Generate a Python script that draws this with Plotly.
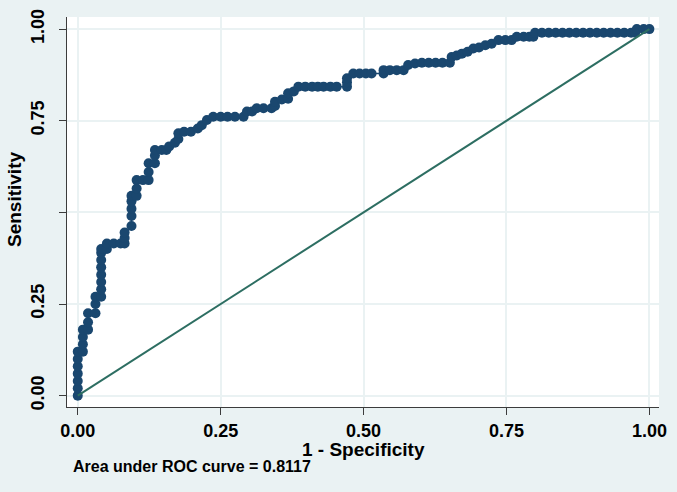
import plotly.graph_objects as go

# ROC curve points (1 - specificity, sensitivity)
fpr = [
    0, 0, 0, 0, 0, 0, 0,
    0.009, 0.009, 0.009, 0.009,
    0.018, 0.018, 0.018,
    0.031, 0.031, 0.031,
    0.041, 0.041, 0.041, 0.041, 0.041, 0.041, 0.041, 0.041,
    0.051, 0.051,
    0.063, 0.075, 0.082, 0.082, 0.082,
    0.094, 0.094, 0.094, 0.094, 0.094,
    0.103, 0.103, 0.103,
    0.114, 0.124, 0.124, 0.124,
    0.135, 0.135, 0.135,
    0.147, 0.155,
    0.16, 0.17, 0.176, 0.176, 0.186, 0.198, 0.21, 0.217, 0.226, 0.237,
    0.25, 0.262, 0.275, 0.29,
    0.296, 0.305, 0.313, 0.325, 0.339,
    0.345, 0.345, 0.357, 0.368, 0.368, 0.378, 0.386,
    0.398, 0.41, 0.42, 0.43, 0.442, 0.453,
    0.471, 0.471, 0.471, 0.482, 0.493, 0.504, 0.514,
    0.535, 0.535, 0.546, 0.558, 0.570,
    0.578, 0.59, 0.602, 0.614, 0.626, 0.638, 0.651,
    0.654, 0.663, 0.672, 0.682, 0.692, 0.702, 0.713, 0.724, 0.736, 0.748, 0.759,
    0.768, 0.78, 0.79, 0.797,
    0.8, 0.812, 0.824, 0.836, 0.848, 0.86, 0.872, 0.884, 0.896, 0.908,
    0.92, 0.932, 0.944, 0.956, 0.968, 0.975,
    0.978, 0.99, 1.0,
]
tpr = [
    0, 0.02, 0.04, 0.06, 0.08, 0.10, 0.12,
    0.12, 0.14, 0.16, 0.18,
    0.18, 0.20, 0.225,
    0.225, 0.25, 0.27,
    0.27, 0.29, 0.31, 0.33, 0.35, 0.37, 0.39, 0.40,
    0.40, 0.415,
    0.415, 0.415, 0.415, 0.43, 0.445,
    0.463, 0.49, 0.51, 0.53, 0.545,
    0.545, 0.565, 0.588,
    0.588, 0.588, 0.61, 0.634,
    0.634, 0.655, 0.67,
    0.67, 0.67,
    0.68, 0.69, 0.70, 0.716, 0.72, 0.72, 0.729, 0.738, 0.752, 0.761,
    0.761, 0.761, 0.761, 0.761,
    0.775, 0.775, 0.784, 0.784, 0.784,
    0.79, 0.802, 0.808, 0.81, 0.825, 0.83, 0.843,
    0.843, 0.843, 0.843, 0.843, 0.843, 0.843,
    0.843, 0.855, 0.866, 0.879, 0.879, 0.879, 0.879,
    0.879, 0.888, 0.888, 0.888, 0.888,
    0.902, 0.906, 0.908, 0.908, 0.908, 0.908, 0.908,
    0.924, 0.928, 0.933, 0.938, 0.947, 0.95, 0.956, 0.96, 0.97, 0.97, 0.97,
    0.979, 0.979, 0.979, 0.979,
    0.99, 0.99, 0.99, 0.99, 0.99, 0.99, 0.99, 0.99, 0.99, 0.99,
    0.99, 0.99, 0.99, 0.99, 0.99, 0.99,
    1.0, 1.0, 1.0,
]
ref_x = [0, 1]
ref_y = [0, 1]

tick_vals = [0, 0.25, 0.5, 0.75, 1.0]
x_tick_text = ["0.00", "0.25", "0.50", "0.75", "1.00"]
y_tick_text = ["0.00", "0.25", "", "0.75", "1.00"]
auc_text = "Area under ROC curve = 0.8117"

NAVY = "#1a476f"
GREEN = "#2d6e62"
BG = "#eaf2f3"
FONT = "Liberation Sans, Arial, sans-serif"

fig = go.Figure()
fig.add_trace(go.Scatter(
    x=fpr, y=tpr, mode="lines+markers",
    line=dict(color=NAVY, width=1.5),
    marker=dict(color=NAVY, size=10, line=dict(width=0)),
    showlegend=False, hoverinfo="skip",
))
fig.add_trace(go.Scatter(
    x=ref_x, y=ref_y, mode="lines",
    line=dict(color=GREEN, width=2),
    showlegend=False, hoverinfo="skip",
))

axis_common = dict(
    showgrid=True, gridcolor=BG, gridwidth=1.5,
    zeroline=False, automargin=False,
    showline=True, linecolor="#3c3c3c", linewidth=1,
    ticks="outside", ticklen=7, tickwidth=1, tickcolor="#3c3c3c",
    tickfont=dict(family=FONT, size=18, color="black", weight="bold"),
    tickvals=tick_vals,
)
fig.update_xaxes(range=[-0.0188, 1.0168], ticktext=x_tick_text,
                 ticklabelstandoff=0, **axis_common)
fig.update_yaxes(range=[-0.031, 1.033], ticktext=y_tick_text,
                 tickangle=-90, ticklabelstandoff=8, **axis_common)

fig.update_layout(
    width=677, height=492,
    margin=dict(l=67, r=18, t=17, b=85),
    paper_bgcolor=BG, plot_bgcolor="white",
    annotations=[
        dict(text="1 - Specificity", xref="paper", yref="paper",
             x=0.5, y=-(449 - 407) / 390, xanchor="center", yanchor="middle",
             showarrow=False,
             font=dict(family=FONT, size=19, color="black", weight="bold")),
        dict(text="Sensitivity", xref="paper", yref="paper",
             x=(14 - 67) / 592, y=(407 - 200) / 390, xanchor="center",
             yanchor="middle", textangle=-90, showarrow=False,
             font=dict(family=FONT, size=19, color="black", weight="bold")),
        dict(text=auc_text, xref="paper", yref="paper",
             x=(71 - 67) / 592, y=-(467 - 407) / 390, xanchor="left",
             yanchor="middle", showarrow=False,
             font=dict(family=FONT, size=16, color="black", weight="bold")),
    ],
)

fig.write_html("out.html",
               config={"displayModeBar": False},
               post_script="document.body.style.margin='0px';"
                           "document.body.style.background='#eaf2f3';")
